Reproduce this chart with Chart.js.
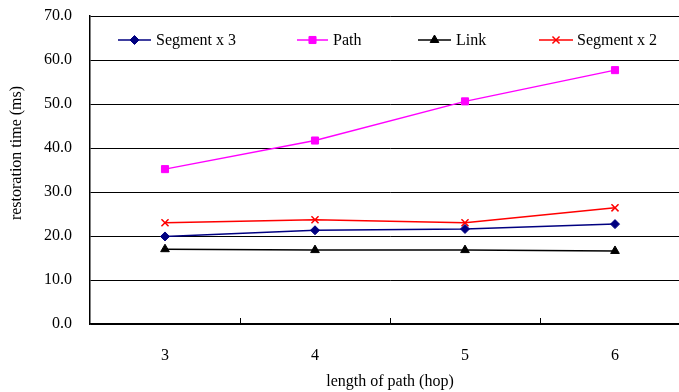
<!DOCTYPE html>
<html>
<head>
<meta charset="utf-8">
<script src="https://cdn.jsdelivr.net/npm/chart.js@4"></script>
<style>
  html, body { margin: 0; padding: 0; background: #fff; overflow: hidden; }
  #wrap { width: 700px; height: 392px; }
</style>
</head>
<body>
<div id="wrap"><canvas id="chart"></canvas></div>
<script>
// data
const hops = ['3', '4', '5', '6'];
const segment3 = [19.9, 21.3, 21.6, 22.7];
const path = [35.2, 41.7, 50.6, 57.7];
const link = [17.0, 16.8, 16.8, 16.6];
const segment2 = [23.0, 23.7, 23.0, 26.4];
const yTicks = [0, 10, 20, 30, 40, 50, 60, 70];

const FONT = '"Liberation Serif", "Times New Roman", serif';

// legend drawn inside the plot, like the Excel original
const legendX = [
  { line: [118, 151], text: 156 },
  { line: [297, 328], text: 333 },
  { line: [418, 451], text: 456 },
  { line: [539, 573], text: 577 }
];

const insideLegend = {
  id: 'insideLegend',
  afterDraw(chart) {
    const ctx = chart.ctx;
    const y = 40;
    ctx.save();
    chart.data.datasets.forEach((ds, i) => {
      const pos = legendX[i];
      ctx.strokeStyle = ds.borderColor;
      ctx.fillStyle = ds.borderColor;
      ctx.lineWidth = ds.borderWidth;
      ctx.beginPath();
      ctx.moveTo(pos.line[0], y);
      ctx.lineTo(pos.line[1], y);
      ctx.stroke();
      ctx.lineWidth = ds.pointBorderWidth;
      Chart.helpers.drawPoint(ctx, {
        pointStyle: ds.pointStyle,
        radius: ds.pointRadius,
        borderWidth: ds.pointBorderWidth
      }, (pos.line[0] + pos.line[1]) / 2, y);
      ctx.fillStyle = '#000';
      ctx.font = '16px ' + FONT;
      ctx.textBaseline = 'middle';
      ctx.textAlign = 'left';
      ctx.fillText(ds.label, pos.text, y + 1);
    });
    ctx.restore();
  }
};

// tick marks between categories, pointing into the plot, plus the y title
const innerTicks = {
  id: 'innerTicks',
  afterDraw(chart) {
    const xs = chart.scales.x;
    const bottom = chart.chartArea.bottom;
    const ctx = chart.ctx;
    ctx.save();
    ctx.strokeStyle = '#000';
    ctx.lineWidth = 1;
    for (let i = 0; i < hops.length - 1; i++) {
      const x = Math.round((xs.getPixelForValue(i) + xs.getPixelForValue(i + 1)) / 2) + 0.5;
      ctx.beginPath();
      ctx.moveTo(x, bottom - 6);
      ctx.lineTo(x, bottom);
      ctx.stroke();
    }
    ctx.fillStyle = '#000';
    ctx.font = '16px ' + FONT;
    ctx.textAlign = 'center';
    ctx.textBaseline = 'middle';
    ctx.translate(17, 153);
    ctx.rotate(-Math.PI / 2);
    ctx.fillText('restoration time (ms)', 0, 0);
    ctx.restore();
  }
};

function series(label, data, color, style, radius) {
  return {
    label,
    data,
    borderColor: color,
    backgroundColor: color,
    borderWidth: 1.5,
    pointStyle: style,
    pointRadius: radius,
    pointHoverRadius: radius,
    pointBackgroundColor: color,
    pointBorderColor: color,
    pointBorderWidth: style === 'crossRot' ? 1.5 : 1,
    tension: 0,
    fill: false
  };
}

new Chart(document.getElementById('chart'), {
  type: 'line',
  data: {
    labels: hops,
    datasets: [
      series('Segment x 3', segment3, '#000080', 'rectRot', 4.5),
      series('Path', path, '#ff00ff', 'rect', 5),
      series('Link', link, '#000000', 'triangle', 5),
      series('Segment x 2', segment2, '#ff0000', 'crossRot', 5)
    ]
  },
  options: {
    responsive: true,
    maintainAspectRatio: false,
    animation: false,
    layout: { padding: { top: 16, right: 10, left: 0, bottom: 0 } },
    plugins: {
      legend: { display: false },
      tooltip: { enabled: false }
    },
    scales: {
      x: {
        type: 'category',
        offset: true,
        grid: { display: false, drawTicks: false },
        border: { display: true, color: '#000', width: 1.5 },
        ticks: {
          font: { family: FONT, size: 16 },
          color: '#000',
          padding: 22
        },
        title: {
          display: true,
          text: 'length of path (hop)',
          font: { family: FONT, size: 16 },
          color: '#000',
          padding: { top: 0, bottom: 1 }
        },
        afterFit: s => { s.height = 68; }
      },
      y: {
        min: 0,
        max: 70,
        afterBuildTicks: s => { s.ticks = yTicks.map(v => ({ value: v })); },
        grid: { color: '#000', lineWidth: 1, drawTicks: false },
        border: { display: true, color: '#000', width: 1.5 },
        ticks: {
          font: { family: FONT, size: 16 },
          color: '#000',
          padding: 18,
          callback: v => v.toFixed(1)
        },
        afterFit: s => {
          s.width = 90;
          s.paddingTop = 0;
          s.paddingBottom = 0;
        }
      }
    }
  },
  plugins: [insideLegend, innerTicks]
});
</script>
</body>
</html>
